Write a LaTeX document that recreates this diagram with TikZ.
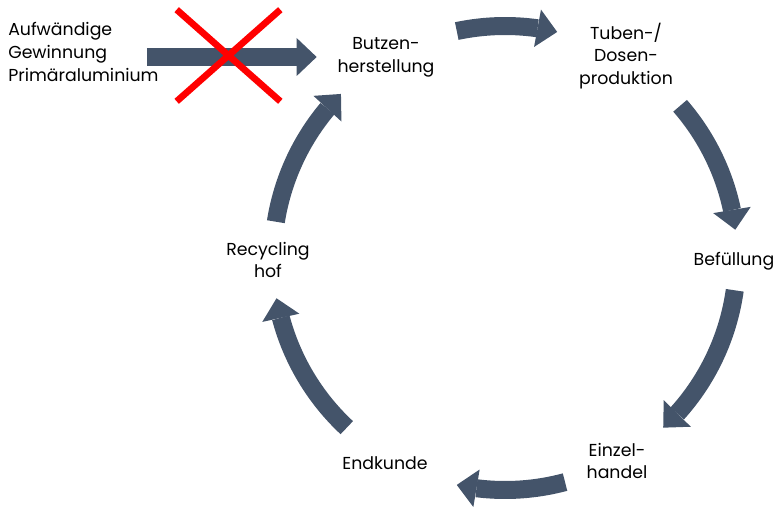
\documentclass[tikz,border=0pt]{standalone}
\usepackage{fontspec}
\setmainfont{Poppins}
\usetikzlibrary{
  arrows.meta,
  bending,
  shapes.misc,
  positioning,
  calc
}
\definecolor{rcArrow}{HTML}{44546A}
\definecolor{rcStop}{HTML}{FF0000}
\tikzset{
  stage/.style={font=\fontsize{13}{17}\selectfont, align=center, inner sep=2pt},
  source/.style={stage, align=left, inner sep=0pt, anchor=west},
  blockarrow/.style={line width=13.5pt, rcArrow,
    -{Triangle[length=15pt, width=28.5pt, line width=0pt]}},
  stopmark/.style={cross out, draw=rcStop, line width=5pt, inner sep=0pt,
    minimum width=72.75pt, minimum height=63.75pt}
}

\begin{document}
\begin{tikzpicture}[x=0.75pt, y=0.75pt]
  \useasboundingbox (0,0) rectangle (776,508);
  \coordinate (cyc) at (505,250);
  \node[source] (prim) at (8,456) {Aufwändige\\Gewinnung\\Primäraluminium};
  \node[stage] (butzen) at (386,451) {Butzen-\\herstellung};
  \node[stage] (tuben) at (626,452) {Tuben-/\\Dosen-\\produktion};
  \node[stage] (befuellung) at (734,247) {Befüllung};
  \node[stage] (einzel) at (617,47) {Einzel-\\handel};
  \node[stage] (endkunde) at (385,45) {Endkunde};
  \node[stage] (recycling) at (268,248) {Recycling\\hof};
  % primary route, crossed out
  \draw[blockarrow, shorten >=13.5pt] ($(prim.east |- butzen.west)+(-12,0)$) -- (butzen.west);
  \node[stopmark] (stop) at (228.5,452.5) {};
  % the cycle
  \draw[blockarrow] ($(cyc)+(102:174pt)$) arc[start angle=102, end angle=77, radius=174pt];
  \draw[blockarrow] ($(cyc)+(41:174pt)$) arc[start angle=41, end angle=7, radius=174pt];
  \draw[blockarrow] ($(cyc)+(-8:174pt)$) arc[start angle=-8, end angle=-47, radius=174pt];
  \draw[blockarrow] ($(cyc)+(-75:174pt)$) arc[start angle=-75, end angle=-102, radius=174pt];
  \draw[blockarrow] ($(cyc)+(-133:174pt)$) arc[start angle=-133, end angle=-170, radius=174pt];
  \draw[blockarrow] ($(cyc)+(171:174pt)$) arc[start angle=171, end angle=135, radius=174pt];
\end{tikzpicture}
\end{document}
